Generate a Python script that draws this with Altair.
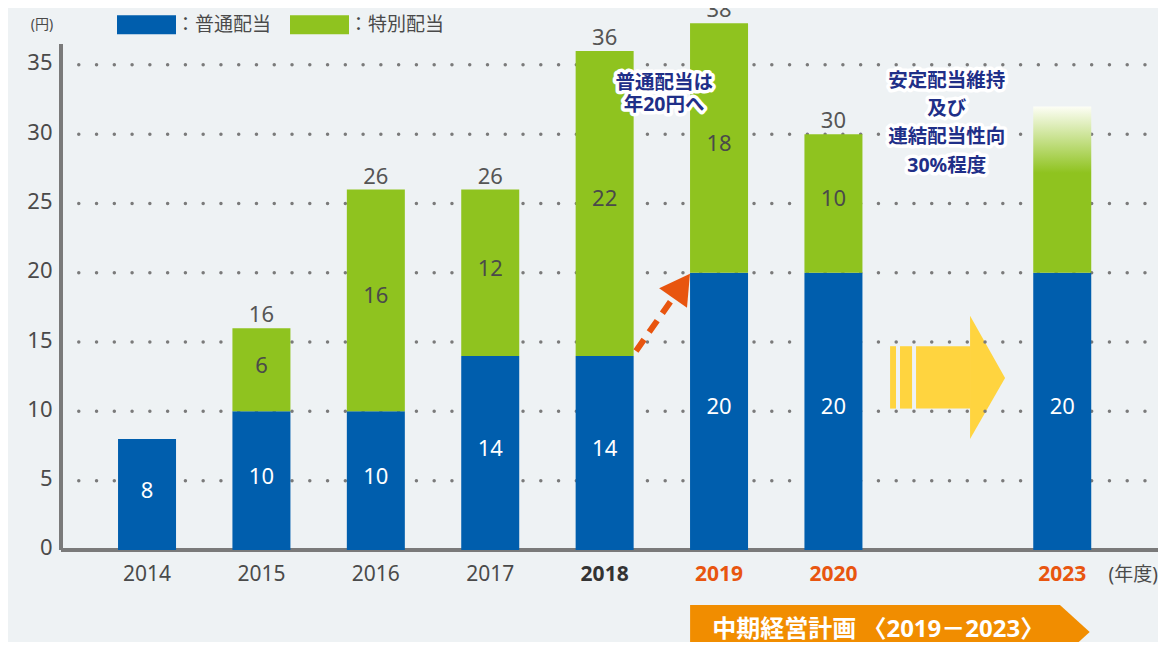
import altair as alt
import pandas as pd

# ---------------- data ----------------
slots = ["2014", "2015", "2016", "2017", "2018", "2019", "2020", "", "2023"]
years = ["2014", "2015", "2016", "2017", "2018", "2019", "2020", "2023"]
regular = [8, 10, 10, 14, 14, 20, 20, 20]          # 普通配当
special = [0, 6, 16, 12, 22, 18, 10, 0]            # 特別配当
outlook_special_2023 = 12                           # gradient part of 2023 (outlook)
y_ticks = [0, 5, 10, 15, 20, 25, 30, 35]
series_names = ["普通配当", "特別配当"]
note1 = "普通配当は\n年20円へ"
note2 = "安定配当維持\n及び\n連結配当性向\n30%程度"
banner_text = "中期経営計画 〈2019－2023〉"
unit_label = "(円)"
year_unit = "(年度)"

BLUE = "#005EAD"
GREEN = "#8FC31F"
ORANGE = "#E8550F"
NAVY = "#1F2F88"
YELLOW = "#FFD43F"
BANNER = "#F18D00"
BG = "#EEF2F4"
TXT = "#4A4A4A"
FONT = "Noto Sans, Noto Sans CJK JP"

# ---------------- tables ----------------
rows = []
for y, r, s in zip(years, regular, special):
    p = slots.index(y)
    rows.append(dict(year=y, pos=p, type=series_names[0], base=0, top=r, val=r))
    if s > 0:
        rows.append(dict(year=y, pos=p, type=series_names[1], base=r, top=r + s, val=s))
seg = pd.DataFrame(rows)
seg["mid"] = (seg["base"] + seg["top"]) / 2

tot = pd.DataFrame([dict(pos=slots.index(y), total=r + s)
                    for y, r, s in zip(years, regular, special) if s > 0])

grad = pd.DataFrame([dict(pos=slots.index("2023"), base=regular[-1],
                          top=regular[-1] + outlook_special_2023)])

xl = pd.DataFrame(dict(year=years, pos=[slots.index(y) for y in years], zero=0))

X_DOM = [-0.752, 8.837]
Y_DOM = [-6.64, 39.1]
xs = alt.Scale(domain=X_DOM, nice=False, zero=False, padding=0)
ys = alt.Scale(domain=Y_DOM, nice=False, zero=False, padding=0)

Y_AXIS = alt.Axis(values=y_ticks, domain=False, ticks=False, grid=False, labelFontSize=22,
                  labelColor=TXT, labelPadding=9, labelFont=FONT, title=None,
                  labelOffset=-2)


def X(f):
    return alt.X(f, type="quantitative", scale=xs, axis=None)


def Y(f):
    return alt.Y(f, type="quantitative", scale=ys, axis=Y_AXIS)


# yellow arrow (between 2020 and 2023)
arrow_body = pd.DataFrame(dict(x=[6.495, 6.582, 6.722], x2=[6.547, 6.687, 7.20],
                               y=[10.2] * 3, y2=[14.7] * 3))
arrow_head = pd.DataFrame(dict(x=[7.194, 7.50], y=[16.9, 12.4], y2=[8.0, 12.4]))
l_body = alt.Chart(arrow_body).mark_rect(color=YELLOW).encode(
    x=X("x"), x2="x2", y=Y("y"), y2="y2")
l_head = alt.Chart(arrow_head).mark_area(color=YELLOW, opacity=1).encode(
    x=X("x"), y=Y("y"), y2="y2")

# dotted grid
grid = pd.DataFrame(dict(y=y_ticks[1:], x=X_DOM[0], x2=X_DOM[1]))
l_grid = alt.Chart(grid).mark_rule(color="#7A7A7A", strokeWidth=3.5, strokeCap="round",
                                   strokeDash=[0.01, 17.76]).encode(
    x=X("x"), x2="x2", y=Y("y"))

# axis lines
axl = pd.DataFrame(dict(x=[X_DOM[0], X_DOM[0]], x2=[X_DOM[0], X_DOM[1]],
                        y=[0, 0], y2=[36.5, 0]))
l_axis = alt.Chart(axl).mark_rule(color="#7A7A7A", strokeWidth=4).encode(
    x=X("x"), x2="x2", y=Y("y"), y2="y2")

# bars
l_bars = alt.Chart(seg).mark_bar(size=58).encode(
    x=X("pos"), y=Y("base"), y2="top",
    color=alt.Color("type:N", scale=alt.Scale(domain=series_names, range=[BLUE, GREEN]),
                    legend=alt.Legend(orient="none", legendX=56, legendY=-13,
                                      direction="horizontal", title=None,
                                      symbolType="M-1,-0.32H1V0.32H-1Z", symbolSize=3481,
                                      symbolStrokeWidth=0, symbolOpacity=1,
                                      labelFontSize=19, labelColor=TXT, labelOffset=0,
                                      columnPadding=18, labelFont=FONT,
                                      labelExpr="'：' + datum.label")))

l_grad = alt.Chart(grad).mark_bar(size=58, color=alt.LinearGradient(
    gradient="linear", x1=0, x2=0, y1=1, y2=0,
    stops=[alt.GradientStop(color=GREEN, offset=0),
           alt.GradientStop(color=GREEN, offset=0.6),
           alt.GradientStop(color="#FDFEF6", offset=1)])).encode(
    x=X("pos"), y=Y("base"), y2="top")

# labels inside bars
l_seg_txt = alt.Chart(seg).mark_text(fontSize=22, font=FONT, baseline="middle", dy=-4).encode(
    x=X("pos"), y=Y("mid"), text="val:Q",
    color=alt.Color("type:N", scale=alt.Scale(domain=series_names, range=["#FFFFFF", TXT]),
                    legend=None))

l_tot = alt.Chart(tot).mark_text(fontSize=22, font=FONT, baseline="alphabetic", dy=-6,
                                 color="#555555").encode(
    x=X("pos"), y=Y("total"), text="total:Q")

# x labels
l_xl_norm = alt.Chart(xl).transform_filter("toNumber(datum.year) < 2018").mark_text(
    fontSize=21, font=FONT, baseline="middle", dy=25, color=TXT).encode(
    x=X("pos"), y=Y("zero"), text="year:N")
l_xl_bold = alt.Chart(xl).transform_filter("toNumber(datum.year) >= 2018").transform_calculate(
    col=f"toNumber(datum.year) >= 2019 ? '{ORANGE}' : '#333333'").mark_text(
    fontSize=21, font=FONT, baseline="middle", dy=25, fontWeight="bold").encode(
    x=X("pos"), y=Y("zero"), text="year:N", color=alt.Color("col:N", scale=None))

misc = pd.DataFrame(dict(t=[year_unit], x=[8.62], y=[0]))
l_unit_year = alt.Chart(misc).mark_text(fontSize=19, font=FONT, baseline="middle", dy=25,
                                        color=TXT).encode(x=X("x"), y=Y("y"), text="t:N")
misc2 = pd.DataFrame(dict(t=[unit_label], x=[-0.919], y=[37.87]))
l_unit = alt.Chart(misc2).mark_text(fontSize=14, font=FONT, baseline="middle",
                                    color=TXT).encode(x=X("x"), y=Y("y"), text="t:N")

# orange dashed arrow 2018 -> 2019
dash = pd.DataFrame(dict(x=[4.274], y=[14.36], x2=[4.598], y2=[18.18]))
l_dash = alt.Chart(dash).mark_rule(color=ORANGE, strokeWidth=6, strokeDash=[14, 9]).encode(
    x=X("x"), y=Y("y"), x2="x2", y2="y2")
tri = pd.DataFrame(dict(x=[4.672], y=[19.05]))
l_tri = alt.Chart(tri).mark_point(shape="triangle-up", size=1156, filled=True, opacity=1,
                                  color=ORANGE, angle=35).encode(x=X("x"), y=Y("y"))

# annotations with white halo (y = first line)
notes = pd.DataFrame(dict(t=[note1, note2], x=[4.52, 6.99], y=[33.68, 33.86]))


def note_layer(df, lh, halo):
    kw = dict(fontSize=19.5, font=FONT, fontWeight="bold", baseline="middle", align="center",
              lineBreak="\n", lineHeight=lh)
    if halo:
        kw.update(stroke="white", strokeWidth=7, strokeJoin="round", color="white")
    else:
        kw.update(color=NAVY)
    return alt.Chart(df).mark_text(**kw).encode(x=X("x"), y=Y("y"), text="t:N")


n1 = notes.iloc[[0]]
n2 = notes.iloc[[1]]
l_notes = [note_layer(n1, 21.6, True), note_layer(n2, 28.4, True),
           note_layer(n1, 21.6, False), note_layer(n2, 28.4, False)]

# bottom banner
ban = pd.DataFrame(dict(x=[4.747, 7.98, 8.24], y=[-3.97, -3.97, -5.92],
                        y2=[-7.87, -7.87, -5.92]))
l_ban = alt.Chart(ban).mark_area(color=BANNER, opacity=1, clip=True).encode(
    x=X("x"), y=Y("y"), y2="y2")
bt = pd.DataFrame(dict(t=[banner_text], x=[4.94], y=[-5.77]))
l_bt = alt.Chart(bt).mark_text(fontSize=24, font=FONT, fontWeight="bold", color="white",
                               align="left", baseline="middle").encode(
    x=X("x"), y=Y("y"), text="t:N")

chart = alt.layer(
    l_body, l_head, l_grid, l_axis, l_bars, l_grad, l_seg_txt, l_tot,
    l_xl_norm, l_xl_bold, l_unit_year, l_unit, l_dash, l_tri, *l_notes, l_ban, l_bt
).resolve_scale(color="independent").properties(
    width=1097, height=634,
    padding={"left": 53, "top": 0, "right": 0, "bottom": 0},
    autosize=alt.AutoSizeParams(type="none"),
    background=BG,
).configure(font=FONT, view=alt.ViewConfig(stroke=None))

chart.save("out.html", embed_options={"renderer": "svg", "actions": False})
